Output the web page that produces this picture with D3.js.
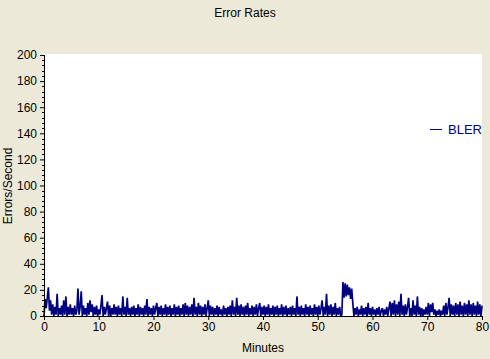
<!DOCTYPE html>
<html><head><meta charset="utf-8">
<script src="https://cdn.jsdelivr.net/npm/d3@7"></script>
<style>html,body{margin:0;padding:0;background:#ECE9D8;}svg{display:block;font-family:Arial,"Liberation Sans",sans-serif;}</style>
</head><body>
<script>
// BLER samples, 5 per minute (every 12 s)
const bler0to10 = [0,13,6,14,22, 4,12,1,9,0, 7,1,17,0,6, 1,8,0,12,1, 15,0,7,1,9, 1,6,0,8,1, 4,21,1,7,19, 0,8,1,6,0, 10,1,12,3,9, 0,7,1,8,0];
const bler10to20 = [5,1,8,16,0, 7,1,6,11,0, 8,0,6,1,9, 1,7,0,8,1, 6,0,15,1,7, 0,14,1,6,0, 7,1,8,0,6, 1,9,0,7,1, 6,0,8,1,13, 0,7,1,6,0];
const bler20to30 = [8,1,6,10,0, 7,1,8,0,6, 1,9,0,7,1, 8,0,6,1,9, 0,7,1,8,0, 6,1,9,0,10, 1,8,0,7,1, 9,0,14,1,7, 0,10,1,8,0, 7,1,9,0,6];
const bler30to40 = [12,0,8,1,7, 0,6,1,8,0, 7,1,5,0,8, 1,6,0,7,1, 8,0,12,1,7, 0,14,1,8,0, 9,1,7,0,8, 1,10,0,6,1, 8,0,7,1,9, 0,6,10,0,7];
const bler40to50 = [1,8,0,7,1, 9,0,6,1,8, 0,7,1,8,0, 6,1,9,0,7, 1,8,0,6,1, 7,0,8,1,6, 0,15,1,7,0, 8,1,6,0,9, 1,7,0,8,1, 6,0,9,1,7];
const bler50to60 = [0,8,1,6,12, 0,7,1,17,0, 8,1,9,0,7, 1,10,0,6,1, 7,0,1,26,14, 25,15,24,16,22, 13,21,10,0,6, 1,7,0,5,1, 8,0,6,1,7, 0,10,1,6,0];
const bler60to70 = [7,1,5,0,6, 1,7,0,4,6, 0,5,1,7,0, 6,11,0,10,1, 12,0,9,1,11, 0,17,1,8,0, 9,1,7,14,0, 6,0,12,1,8, 0,15,1,7,0, 6,0,5,1,7];
const bler70to80 = [1,10,0,9,3, 10,1,5,0,4, 1,5,0,4,1, 8,0,10,1,7, 14,0,9,1,8, 0,10,1,9,0, 11,1,8,0,10, 1,9,0,12,1, 9,0,10,1,8, 0,11,1,9,0, 8];
const samplesPerMinute = 5;
const xTicks = [0,10,20,30,40,50,60,70,80];
const yTicks = [0,20,40,60,80,100,120,140,160,180,200];
const seriesName = "BLER";
const titleText = "Error Rates";
const xTitle = "Minutes";
const yTitle = "Errors/Second";

const bler = [].concat(bler0to10, bler10to20, bler20to30, bler30to40, bler40to50, bler50to60, bler60to70, bler70to80);
const data = bler.map((v,i)=>({t:i/samplesPerMinute, v}));

const W=490,H=359;
const svg=d3.select("body").append("svg").attr("width",W).attr("height",H);
svg.append("rect").attr("width",W).attr("height",H).attr("fill","#ECE9D8");

const x=d3.scaleLinear().domain([0,80]).range([44,482]);
const y=d3.scaleLinear().domain([0,200]).range([316,55]);

svg.append("rect").attr("x",44).attr("y",54).attr("width",438).attr("height",262).attr("fill","#fff");

// series
svg.append("path").datum(data)
  .attr("d",d3.line().x(d=>x(d.t)).y(d=>y(d.v)))
  .attr("fill","none").attr("stroke","#000080").attr("stroke-width",1.7)
  .attr("stroke-linejoin","bevel");

// y axis
const ya=svg.append("g").attr("transform","translate(44,0)")
  .call(d3.axisLeft(y).tickValues(yTicks).tickSize(4).tickPadding(3).tickFormat(d3.format("d")));
ya.select(".domain").remove();
ya.selectAll("text").attr("font-size",12).attr("fill","#000").attr("font-family","Arial,'Liberation Sans',sans-serif");
ya.selectAll("line").attr("stroke","#000");
const yminor=d3.range(0,201,4).filter(v=>v%20!==0);
svg.append("g").selectAll("line").data(yminor).join("line")
  .attr("x1",42).attr("x2",44).attr("y1",d=>Math.round(y(d))+0.5).attr("y2",d=>Math.round(y(d))+0.5).attr("stroke","#000");
svg.append("line").attr("x1",44.5).attr("x2",44.5).attr("y1",55).attr("y2",316).attr("stroke","#000");

// x axis
const xa=svg.append("g").attr("transform","translate(0,316)")
  .call(d3.axisBottom(x).tickValues(xTicks).tickSize(4).tickPadding(2).tickFormat(d3.format("d")));
xa.select(".domain").remove();
xa.selectAll("text").attr("font-size",12).attr("fill","#000").attr("font-family","Arial,'Liberation Sans',sans-serif");
xa.selectAll("line").attr("stroke","#000");
svg.append("line").attr("x1",44).attr("x2",482).attr("y1",316.5).attr("y2",316.5).attr("stroke","#000");

// titles
svg.append("text").attr("x",245).attr("y",17).attr("text-anchor","middle").attr("font-size",12).text(titleText);
svg.append("text").attr("x",263).attr("y",352).attr("text-anchor","middle").attr("font-size",12).text(xTitle);
svg.append("text").attr("transform","translate(12,186) rotate(-90)").attr("text-anchor","middle").attr("font-size",12).text(yTitle);

// legend
svg.append("line").attr("x1",430).attr("x2",442).attr("y1",129.5).attr("y2",129.5).attr("stroke","#000080");
svg.append("text").attr("x",448).attr("y",134).attr("font-size",13).attr("fill","#000080").text(seriesName);
</script>
</body></html>
